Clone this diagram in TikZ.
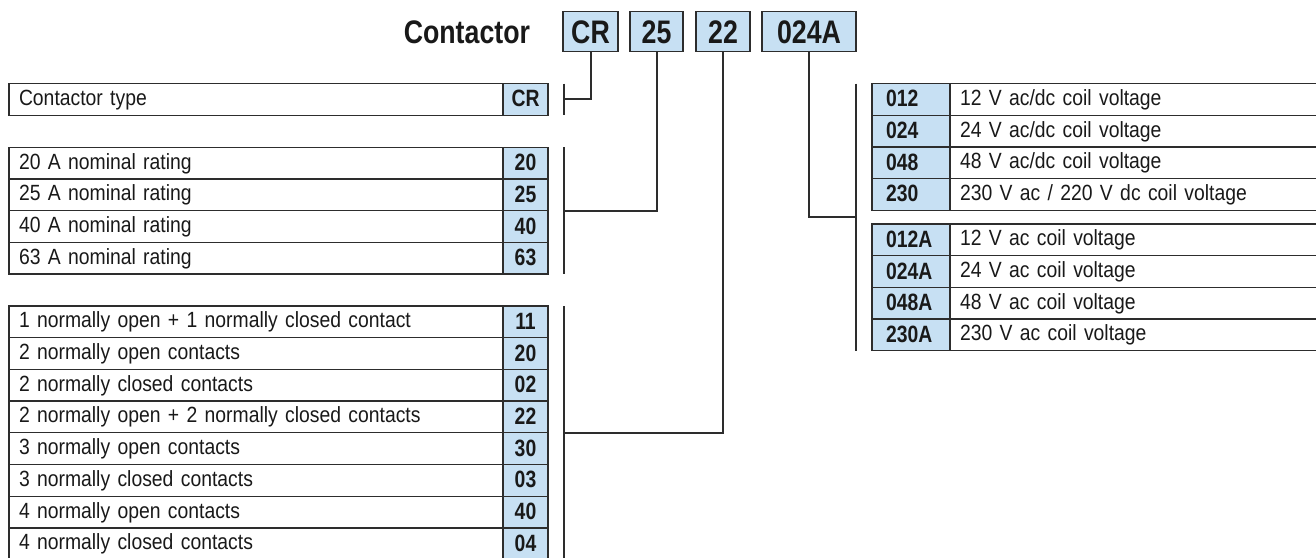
\documentclass[tikz,border=0pt]{standalone}
\usepackage{fontspec}
\setmainfont{Liberation Sans}[FakeStretch=0.88]
\newfontfamily\condfont{Liberation Sans}[FakeStretch=0.82]
\usetikzlibrary{positioning,calc}
\definecolor{codeblue}{RGB}{199,224,243}
\definecolor{rulegray}{RGB}{45,45,45}
\definecolor{ink}{RGB}{25,25,25}

\begin{document}
\begin{tikzpicture}[x=1pt, y=-1pt, text=ink,
  cell/.style={draw=rulegray, line width=1.3pt, minimum height=31.7pt, inner ysep=0pt, outer sep=0pt},
  desc/.style={cell, fill=white, font={\fontsize{22pt}{26pt}\selectfont}, text height=15.6pt, text depth=3.7pt,
    inner xsep=10pt, text width=#1, align=left},
  desc/.default=474pt,
  code/.style={cell, fill=codeblue, font={\condfont\bfseries\fontsize{23.6pt}{27pt}\selectfont}, text height=16.9pt,
    text depth=2pt, inner xsep=0pt, text width=45pt, align=center},
  coil/.style={code, inner xsep=14pt, text width=50pt, align=left},
  hbox/.style={draw=rulegray, line width=1.8pt, fill=codeblue, minimum height=40pt, inner sep=0pt, outer sep=0pt,
    font={\condfont\bfseries\fontsize{32.6pt}{36pt}\selectfont}, text height=23.3pt, text depth=0pt},
  link/.style={draw=rulegray, line width=2pt}]
\useasboundingbox (0,0) rectangle (1316,557);

% type code
\node[hbox, minimum width=55pt] (hCR) at (590.5,31.5) {CR};
\node[hbox, minimum width=53pt, right=12pt of hCR] (h25) {25};
\node[hbox, minimum width=54pt, right=13pt of h25] (h22) {22};
\node[hbox, minimum width=94pt, right=12pt of h22] (hCoil) {024A};
\node[hbox, draw=none, fill=none, left=33pt of hCR] (title) {Contactor};

% left tables
\node[desc, anchor=north west] (ta1) at (9,83.5) {Contactor type};
\node[code, anchor=north west] (ca1) at (ta1.north east) {CR};
\foreach \c/\t [count=\i] in {20/20 A nominal rating, 25/25 A nominal rating, 40/40 A nominal rating, 63/63 A nominal rating} {
  \node[desc, anchor=north west] (rt\i) at (9,{147.3+31.7*(\i-1)}) {\t};
  \node[code, anchor=north west] (rc\i) at (rt\i.north east) {\c};
}
\foreach \c/\t [count=\i] in {11/{1 normally open + 1 normally closed contact}, 20/2 normally open contacts,
    02/2 normally closed contacts, 22/{2 normally open + 2 normally closed contacts}, 30/3 normally open contacts,
    03/3 normally closed contacts, 40/4 normally open contacts, 04/4 normally closed contacts} {
  \node[desc, anchor=north west] (kt\i) at (9,{306+31.7*(\i-1)}) {\t};
  \node[code, anchor=north west] (kc\i) at (kt\i.north east) {\c};
}

% right tables
\foreach \c/\t [count=\i] in {012/{12 V ac/dc coil voltage}, 024/{24 V ac/dc coil voltage},
    048/{48 V ac/dc coil voltage}, 230/{230 V ac / 220 V dc coil voltage}} {
  \node[coil, anchor=north west] (vc\i) at (872,{83.5+31.7*(\i-1)}) {\c};
  \node[desc=360pt, anchor=north west] (vt\i) at (vc\i.north east) {\t};
}
\foreach \c/\t [count=\i] in {012A/12 V ac coil voltage, 024A/24 V ac coil voltage,
    048A/48 V ac coil voltage, 230A/230 V ac coil voltage} {
  \node[coil, anchor=north west] (wc\i) at (872,{224+31.7*(\i-1)}) {\c};
  \node[desc=360pt, anchor=north west] (wt\i) at (wc\i.north east) {\t};
}

% brackets and leaders
\coordinate (jType) at ($(ca1.east)+(16,0)$);
\coordinate (jRate) at ($(rc1.north east)!0.5!(rc4.south east)+(16,0)$);
\coordinate (jCont) at ($(kc1.north east)!0.5!(kc8.south east)+(16,0)$);
\coordinate (jCoil) at ($(vc1.north west)!0.5!(wc4.south west)+(-16,0)$);
\draw[link] (jType |- ca1.north) -- (jType |- ca1.south);
\draw[link] (jRate |- rc1.north) -- (jRate |- rc4.south);
\draw[link] (jCont |- kc1.north) -- (jCont |- kc8.south);
\draw[link] (jCoil |- vc1.north) -- (jCoil |- wc4.south);
\draw[link] (hCR.south) |- (jType);
\draw[link] (h25.south) |- (jRate);
\draw[link] (h22.south) |- (jCont);
\draw[link] (hCoil.south) |- (jCoil);
\end{tikzpicture}
\end{document}
